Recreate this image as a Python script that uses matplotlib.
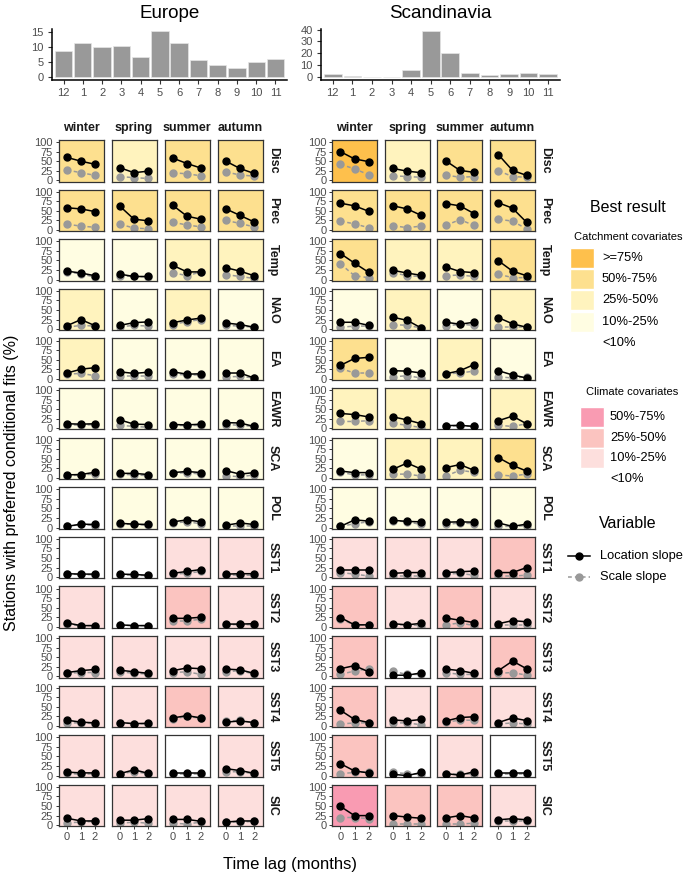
import matplotlib
matplotlib.use("Agg")
import matplotlib.pyplot as plt
from matplotlib.patches import Rectangle
from matplotlib.lines import Line2D

plt.rcParams['font.family'] = ['Liberation Sans', 'DejaVu Sans']

# ---- data ----
months = ['12', '1', '2', '3', '4', '5', '6', '7', '8', '9', '10', '11']
eu_months = [8.7, 11.3, 9.9, 10.1, 6.6, 15.1, 11.1, 5.5, 3.9, 3.0, 4.9, 6.1]
sc_months = [2.8, 1.4, 0.5, 0.5, 6.4, 38.6, 20.3, 3.9, 1.9, 2.5, 3.6, 2.8]

seasons = ['winter', 'spring', 'summer', 'autumn']
variables = ['Disc', 'Prec', 'Temp', 'NAO', 'EA', 'EAWR', 'SCA', 'POL',
             'SST1', 'SST2', 'SST3', 'SST4', 'SST5', 'SIC']
lags = [0, 1, 2]

# location slope, per variable -> season -> lag 0,1,2
eu_loc = [
    [[60, 50, 42], [33, 20, 24], [58, 44, 32], [50, 31, 18]],
    [[58, 55, 48], [62, 28, 24], [64, 36, 28], [55, 38, 21]],
    [[22, 17, 10], [14, 8, 8], [37, 20, 20], [31, 22, 10]],
    [[9, 25, 9], [10, 17, 19], [17, 24, 29], [16, 12, 5]],
    [[15, 25, 29], [18, 14, 17], [18, 12, 13], [15, 15, 2]],
    [[12, 11, 12], [22, 11, 10], [10, 9, 11], [15, 14, 5]],
    [[8, 9, 15], [12, 12, 9], [14, 17, 14], [19, 10, 14]],
    [[3, 9, 8], [11, 9, 8], [15, 20, 15], [6, 12, 8]],
    [[9, 8, 8], [8, 7, 5], [10, 15, 20], [8, 9, 9]],
    [[10, 3, 3], [5, 3, 3], [22, 22, 25], [7, 7, 8]],
    [[10, 15, 18], [16, 12, 8], [15, 22, 20], [19, 17, 8]],
    [[15, 10, 8], [9, 6, 7], [21, 27, 21], [10, 13, 9]],
    [[9, 7, 7], [5, 15, 6], [6, 6, 6], [18, 13, 6]],
    [[18, 11, 11], [13, 13, 17], [15, 15, 10], [8, 11, 11]],
]
eu_scale = [
    [[27, 20, 13], [10, 7, 5], [20, 17, 12], [22, 14, 11]],
    [[15, 10, 7], [15, 5, 3], [20, 13, 8], [25, 17, 8]],
    [[20, 15, 6], [10, 8, 7], [18, 10, 20], [13, 8, 3]],
    [[5, 10, 8], [6, 10, 8], [12, 20, 25], [10, 8, 5]],
    [[12, 14, 8], [8, 8, 8], [12, 10, 10], [5, 6, 2]],
    [[10, 8, 10], [8, 5, 3], [8, 7, 8], [10, 8, 5]],
    [[5, 8, 10], [10, 8, 6], [12, 14, 10], [6, 3, 8]],
    [[3, 8, 5], [9, 8, 6], [12, 15, 10], [5, 5, 5]],
    [[8, 7, 6], [6, 5, 4], [8, 10, 15], [6, 5, 5]],
    [[6, 3, 3], [4, 3, 3], [15, 15, 20], [5, 6, 5]],
    [[8, 10, 10], [12, 8, 6], [10, 12, 5], [12, 15, 6]],
    [[8, 8, 6], [8, 6, 5], [18, 25, 20], [12, 15, 8]],
    [[6, 3, 5], [5, 10, 5], [5, 5, 5], [10, 10, 5]],
    [[6, 8, 10], [5, 8, 5], [5, 3, 8], [8, 8, 10]],
]
sc_loc = [
    [[75, 56, 49], [31, 24, 20], [51, 26, 21], [67, 26, 13]],
    [[70, 63, 49], [63, 55, 38], [69, 63, 43], [71, 57, 20]],
    [[68, 43, 19], [24, 17, 11], [33, 21, 18], [49, 22, 10]],
    [[18, 18, 10], [31, 23, 3], [18, 13, 18], [30, 14, 5]],
    [[35, 53, 56], [21, 20, 15], [13, 21, 37], [21, 10, 2]],
    [[39, 36, 30], [30, 22, 12], [7, 8, 5], [20, 32, 12]],
    [[18, 14, 14], [23, 39, 23], [27, 35, 20], [53, 33, 18]],
    [[3, 20, 17], [19, 16, 15], [14, 15, 14], [12, 3, 9]],
    [[18, 18, 18], [10, 12, 12], [12, 14, 16], [12, 12, 25]],
    [[24, 5, 5], [8, 5, 9], [23, 17, 11], [8, 16, 13]],
    [[20, 28, 12], [3, 3, 9], [19, 15, 8], [15, 40, 20]],
    [[41, 17, 9], [16, 13, 17], [13, 22, 24], [9, 21, 14]],
    [[31, 12, 7], [3, 0, 8], [5, 1, 10], [6, 6, 6]],
    [[49, 25, 25], [25, 21, 18], [19, 25, 19], [14, 17, 14]],
]
sc_scale = [
    [[42, 30, 15], [12, 10, 8], [14, 8, 10], [25, 10, 8]],
    [[23, 16, 6], [11, 6, 10], [12, 27, 12], [28, 23, 3]],
    [[41, 10, 5], [18, 10, 8], [10, 12, 8], [14, 5, 5]],
    [[5, 8, 8], [12, 10, 3], [8, 13, 10], [5, 5, 5]],
    [[27, 15, 15], [5, 8, 2], [13, 15, 20], [5, 2, 5]],
    [[18, 18, 20], [13, 8, 2], [5, 5, 5], [8, 5, 12]],
    [[15, 8, 8], [10, 10, 5], [5, 20, 15], [8, 5, 10]],
    [[3, 10, 15], [18, 15, 8], [8, 12, 10], [3, 3, 5]],
    [[12, 8, 3], [3, 3, 3], [8, 10, 5], [3, 3, 5]],
    [[20, 5, 5], [5, 5, 3], [5, 10, 3], [5, 5, 5]],
    [[5, 14, 20], [13, 5, 5], [10, 5, 5], [8, 10, 3]],
    [[5, 8, 8], [8, 8, 3], [10, 15, 15], [5, 8, 5]],
    [[5, 8, 10], [8, 5, 3], [3, 3, 3], [3, 3, 3]],
    [[20, 20, 17], [3, 3, 3], [3, 3, 5], [10, 10, 10]],
]

# best result class per panel (C = catchment, K = climate, 0 = <10%)
eu_best = [
    ['C2', 'C3', 'C2', 'C2'], ['C2', 'C2', 'C2', 'C2'], ['C4', 'C4', 'C3', 'C3'],
    ['C3', 'C4', 'C3', 'C4'], ['C3', 'C4', 'C4', 'C4'], ['C4', 'C4', 'C4', 'C4'],
    ['C4', 'C4', 'C4', 'C4'], ['0', 'C4', 'C4', 'C4'], ['0', '0', 'K3', 'K3'],
    ['K3', '0', 'K2', 'K3'], ['K3', 'K3', 'K3', 'K3'], ['K3', 'K3', 'K2', 'K3'],
    ['K3', 'K3', '0', 'K3'], ['K3', 'K3', 'K3', 'K3'],
]
sc_best = [
    ['C1', 'C3', 'C2', 'C2'], ['C2', 'C2', 'C2', 'C2'], ['C2', 'C3', 'C3', 'C2'],
    ['C4', 'C3', 'C4', 'C3'], ['C2', 'C4', 'C3', 'C4'], ['C3', 'C3', '0', 'C3'],
    ['C4', 'C3', 'C3', 'C2'], ['C4', 'C4', 'C4', 'C4'], ['K3', 'K3', 'K3', 'K2'],
    ['K2', 'K3', 'K2', 'K3'], ['K2', '0', 'K3', 'K2'], ['K2', 'K3', 'K2', 'K3'],
    ['K2', '0', 'K3', '0'], ['K1', 'K2', 'K2', 'K3'],
]

catch_labels = ['>=75%', '50%-75%', '25%-50%', '10%-25%', '<10%']
clim_labels = ['50%-75%', '25%-50%', '10%-25%', '<10%']

fill = {'C1': '#FEC04C', 'C2': '#FDE08F', 'C3': '#FFF3BE', 'C4': '#FFFDE2',
        'K1': '#F99BB2', 'K2': '#FBC4C0', 'K3': '#FDDFDD', '0': '#FFFFFF'}

W, H = 685, 877
fig = plt.figure(figsize=(W / 100, H / 100), dpi=100)


def px_axes(x0, y0, w, h):
    return fig.add_axes([x0 / W, 1 - (y0 + h) / H, w / W, h / H])


tick_col = '#4D4D4D'

# ---- monthly bar charts ----
for vals, x0, w, yl, yt, title, tx in [
        (eu_months, 52, 235, (-0.75, 15.85), [0, 5, 10, 15], 'Europe', 170),
        (sc_months, 321, 239, (-1.93, 40.5), [0, 10, 20, 30, 40], 'Scandinavia', 440)]:
    ax = px_axes(x0, 29, w, 50.5)
    ax.bar(range(1, 13), vals, width=0.9, color='#999999', edgecolor='#E6E6E6', linewidth=0.5)
    ax.set_xlim(0.4, 12.6)
    ax.set_ylim(*yl)
    ax.set_yticks(yt)
    ax.set_xticks(range(1, 13))
    ax.set_xticklabels(months)
    for s in ['top', 'right']:
        ax.spines[s].set_visible(False)
    for s in ['left', 'bottom']:
        ax.spines[s].set_linewidth(1.1)
    ax.tick_params(labelsize=8, colors=tick_col, length=3, width=0.8, pad=3)
    ax.tick_params(axis='both', color='#333333')
    fig.text(tx / W, 1 - 13 / H, title, ha='center', va='center', fontsize=13.5)

# ---- facet grids ----
row_top, row_pitch, ph, pw = 140, 49.6, 41.5, 45
for loc, scl, best, lefts, strip_x in [
        (eu_loc, eu_scale, eu_best, [58.5, 111.5, 164.5, 217.5], 273),
        (sc_loc, sc_scale, sc_best, [332, 384.7, 437.4, 490], 545)]:
    for j, s in enumerate(seasons):
        fig.text((lefts[j] + pw / 2) / W, 1 - 128 / H, s, ha='center', va='center',
                 fontsize=9, fontweight='bold', color='#1A1A1A')
    for i, v in enumerate(variables):
        y0 = row_top + i * row_pitch
        for j in range(4):
            ax = px_axes(lefts[j], y0, pw, ph)
            ax.set_facecolor(fill[best[i][j]])
            ax.plot(lags, scl[i][j], color='#999999', lw=1.1, ls=(0, (2.5, 2)),
                    marker='o', ms=5, zorder=2)
            ax.plot(lags, loc[i][j], color='black', lw=1.1,
                    marker='o', ms=5, zorder=3)
            ax.set_xlim(-0.6, 2.6)
            ax.set_ylim(-3, 105.5)
            ax.set_xticks(lags)
            ax.set_yticks([0, 25, 50, 75, 100])
            for sp in ax.spines.values():
                sp.set_color('#333333')
                sp.set_linewidth(0.9)
            ax.tick_params(labelsize=8, colors=tick_col, length=2.5, width=0.7, pad=1.5)
            ax.tick_params(axis='both', color='#333333')
            if j > 0:
                ax.tick_params(axis='y', left=False, labelleft=False)
            if i < len(variables) - 1:
                ax.tick_params(axis='x', bottom=False, labelbottom=False)
        fig.text(strip_x / W, 1 - (y0 + ph / 2) / H, v, rotation=270, ha='center', va='center',
                 fontsize=9, fontweight='bold', color='#1A1A1A')

fig.text(12 / W, 1 - 483 / H, 'Stations with preferred conditional fits (%)', rotation=90,
         ha='center', va='center', fontsize=11.5)
fig.text(290 / W, 1 - 865 / H, 'Time lag (months)', ha='center', va='center', fontsize=12)

# ---- legends ----
lg = fig.add_axes([0, 0, 1, 1])
lg.set_xlim(0, W)
lg.set_ylim(H, 0)
lg.axis('off')

lg.text(628, 207, 'Best result', ha='center', va='center', fontsize=11.5)
lg.text(628, 237, 'Catchment covariates', ha='center', va='center', fontsize=8)
for k, lab in enumerate(catch_labels):
    yc = 258 + k * 21.2
    if k < 4:
        lg.add_patch(Rectangle((570, yc - 10), 24, 20, facecolor=fill['C%d' % (k + 1)],
                               edgecolor='white', lw=1))
    lg.text(602, yc, lab, ha='left', va='center', fontsize=9.3)

lg.text(632, 392, 'Climate covariates', ha='center', va='center', fontsize=8)
for k, lab in enumerate(clim_labels):
    yc = 417 + k * 20.7
    if k < 3:
        lg.add_patch(Rectangle((580, yc - 10), 24, 20, facecolor=fill['K%d' % (k + 1)],
                               edgecolor='white', lw=1))
    lg.text(610, yc, lab, ha='left', va='center', fontsize=9.3)

lg.text(628, 523, 'Variable', ha='center', va='center', fontsize=11.5)
lg.add_line(Line2D([568, 590], [556, 556], color='black', lw=1.1))
lg.plot([579], [556], 'o', color='black', ms=5)
lg.add_line(Line2D([568, 590], [577, 577], color='#999999', lw=1.1, ls=(0, (2.5, 2))))
lg.plot([579], [577], 'o', color='#999999', ms=5)
lg.text(600, 556, 'Location slope', ha='left', va='center', fontsize=9.3)
lg.text(600, 577, 'Scale slope', ha='left', va='center', fontsize=9.3)

fig.savefig('out.png', dpi=100)
